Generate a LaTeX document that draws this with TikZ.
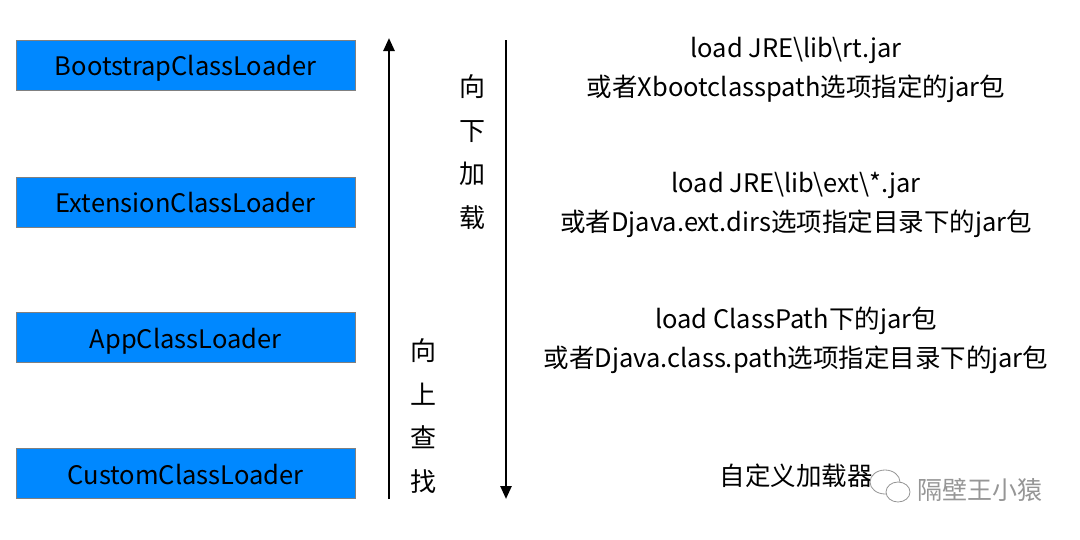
\documentclass[tikz,border=0pt]{standalone}
\usepackage{fontspec}
\setmainfont{Noto Sans CJK SC}
\usetikzlibrary{arrows.meta}
\definecolor{boxblue}{RGB}{0,136,255}
\definecolor{boxedge}{RGB}{128,128,128}
\definecolor{wm}{RGB}{150,150,150}
\begin{document}
\begin{tikzpicture}[x=1pt,y=-1pt,
  loader/.style={draw=boxedge,line width=1pt,fill=boxblue,minimum width=339pt,minimum height=50pt,inner sep=0pt,text height=21pt,text depth=0pt,font=\fontsize{25.5}{30}\selectfont},
  desc/.style={align=center,font=\fontsize{25.5}{39}\selectfont,inner sep=0pt},
  vert/.style={align=center,font=\fontsize{26}{43.5}\selectfont,inner sep=0pt},
  flow/.style={line width=2.5pt,-{Triangle[width=11pt,length=13pt]}}]
\useasboundingbox (0,0) rectangle (1080,539);
\node[loader] (boot) at (185.5,65) {BootstrapClassLoader};
\node[loader] (ext) at (185.5,202) {ExtensionClassLoader};
\node[loader] (app) at (185.5,337.5) {AppClassLoader};
\node[loader] (cust) at (185.5,473.5) {CustomClassLoader};
\coordinate (upS) at (389,499);
\coordinate (upE) at (389,38);
\coordinate (dnS) at (506,40);
\coordinate (dnE) at (506,499);
\draw[flow] (upS) -- (upE);
\draw[flow] (dnS) -- (dnE);
\node[vert] (down) at (472,152) {向\\下\\加\\载};
\node[vert] (up) at (423,416) {向\\上\\查\\找};
\node[desc] (d1) at (796,70) {load JRE\textbackslash lib\textbackslash rt.jar\\或者Xbootclasspath选项指定的jar包};
\node[desc] (d2) at (796,205) {load JRE\textbackslash lib\textbackslash ext\textbackslash *.jar\\或者Djava.ext.dirs选项指定目录下的jar包};
\node[desc] (d3) at (796,340) {load ClassPath下的jar包\\或者Djava.class.path选项指定目录下的jar包};
\node[desc] (d4) at (796,476) {自定义加载器};
\node[font=\fontsize{25}{30}\selectfont,text=wm,inner sep=0pt] (wmt) at (980,490) {隔壁王小猿};
\draw[wm,line width=0.8pt,fill=white] (885,482) ellipse (15pt and 12pt);
\draw[wm,line width=0.8pt,fill=white] (898,492) ellipse (12pt and 10pt);
\end{tikzpicture}
\end{document}
